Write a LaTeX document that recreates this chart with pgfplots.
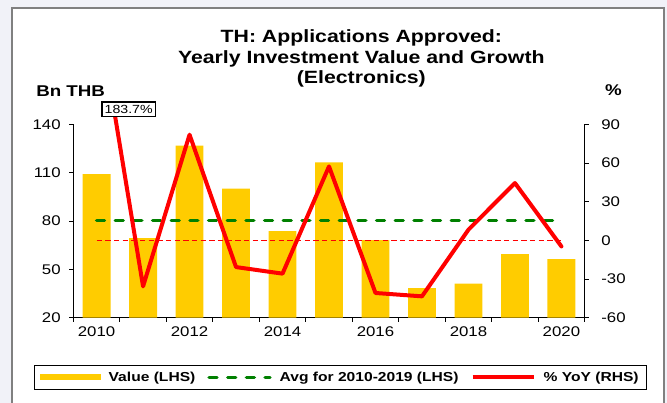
\documentclass[border=0pt]{standalone}
\usepackage{pgfplots}
\usepackage{pgfplotstable}
\pgfplotsset{compat=1.18}
\usepackage{fontspec}
\setmainfont{Liberation Sans}[FakeStretch=1.2]
\definecolor{barc}{HTML}{FFCC00}
\definecolor{grn}{HTML}{008000}
\definecolor{bgc}{HTML}{F1F2F8}
\definecolor{frm}{HTML}{808080}

\pgfplotstableread{
year value yoy
2010 109.2 183.7
2011 69.4 -35.7
2012 126.8 82.0
2013 100.1 -20.7
2014 73.8 -25.8
2015 116.5 57.4
2016 68.2 -40.8
2017 38.4 -43.4
2018 41.1 8.3
2019 59.5 44.5
2020 56.4 -4.7
}\datatable

\pgfplotstableread{
year avg zero
2010 80.3 0
2020 80.3 0
}\reftable

\pgfplotsset{basestyle/.style={
  scale only axis, width=383.5pt, height=145pt,
  at={(55pt,-238.3pt)}, anchor=south west,
  xmin=2009.5, xmax=2020.5,
  tick align=outside, major tick length=3pt,
  axis line style={black, line width=0.75pt},
  tick style={black, line width=0.75pt},
  tick label style={font=\fontsize{10.5}{12}\selectfont},
  /pgf/number format/assume math mode=true,
  /pgf/number format/1000 sep={},
},
lineimg/.style={legend image code/.code={\draw[#1] (0pt,0pt) -- (45.75pt,0pt);}},
barimg/.style={legend image code/.code={\fill[barc] (0pt,-2.25pt) rectangle (45.75pt,2.25pt);}},
}

\begin{document}
\begin{tikzpicture}[x=1pt,y=1pt]
\useasboundingbox (0,0) rectangle (500.25,-302.25);
\fill[bgc] (0,0) rectangle (500.25,-302.25);
\draw[frm, line width=1pt, fill=white] (9,-6) rectangle (498,-310);

\node[font=\bfseries\fontsize{13.3}{16}\selectfont, anchor=base, inner sep=0] at (271,-31.7) {TH: Applications Approved:};
\node[font=\bfseries\fontsize{13.3}{16}\selectfont, anchor=base, inner sep=0] at (271,-47.5) {Yearly Investment Value and Growth};
\node[font=\bfseries\fontsize{13.3}{16}\selectfont, anchor=base, inner sep=0] at (271,-62.5) {(Electronics)};
\node[font=\bfseries\fontsize{11.7}{14}\selectfont, anchor=base west, inner sep=0] at (27,-72) {Bn THB};
\node[font=\bfseries\fontsize{11.7}{14}\selectfont, anchor=base, inner sep=0] at (460,-71.5) {\%};

% Axis 1: values (LHS)
\begin{axis}[basestyle,
  ymin=20, ymax=140, ytick={20,50,...,140},
  axis x line*=bottom, axis y line*=left,
  xtick={2009.5,2010.5,...,2020.5}, xticklabel=\empty,
  extra x ticks={2010,2012,2014,2016,2018,2020},
  extra x tick labels={2010,2012,2014,2016,2018,2020},
  extra x tick style={tick style={draw=none}},
  yticklabel style={xshift=-3pt},
  legend style={at={(0.5225,-0.309)}, anchor=center, draw=black, line width=0.75pt,
    font=\bfseries\fontsize{9.75}{12}\selectfont, legend columns=3,
    inner xsep=4pt, inner ysep=3pt,
    /tikz/every odd column/.append style={column sep=4pt},
    /tikz/every even column/.append style={column sep=7pt}},
  legend cell align=left,
]
\addplot[ybar, bar width=0.6, fill=barc, draw=none, barimg]
  table[x=year,y=value]{\datatable};
\addlegendentry{Value (LHS)}
\addplot[grn, line width=2.5pt, line cap=round, dash pattern=on 6pt off 8pt, lineimg]
  table[x=year,y=avg]{\reftable};
\addlegendentry{Avg for 2010-2019 (LHS)}
\addlegendimage{red, line width=3pt, lineimg}
\addlegendentry{\% YoY (RHS)}
\end{axis}

% Axis 2: right axis and zero reference
\begin{axis}[basestyle,
  ymin=-60, ymax=90, ytick={-60,-30,...,90},
  axis y line*=right, axis x line=none,
  yticklabel style={xshift=6pt},
]
\addplot[red, line width=1.1pt, dash pattern=on 4pt off 2.5pt] table[x=year,y=zero]{\reftable};
\end{axis}

% Axis 3: YoY line, clipped slightly above the plot area
\begin{axis}[basestyle, height=160.3pt,
  ymin=-60, ymax=105.8, hide axis]
\addplot[red, line width=3pt, line join=round, line cap=round] table[x=year,y=yoy]{\datatable};
\coordinate (lbl) at (axis cs:2010.69,101.8);
\end{axis}
\node[draw=black, fill=white, line width=1pt, font=\fontsize{8.85}{10}\selectfont, inner xsep=2pt, inner ysep=2.3pt] at (lbl) {183.7\%};
\end{tikzpicture}
\end{document}
